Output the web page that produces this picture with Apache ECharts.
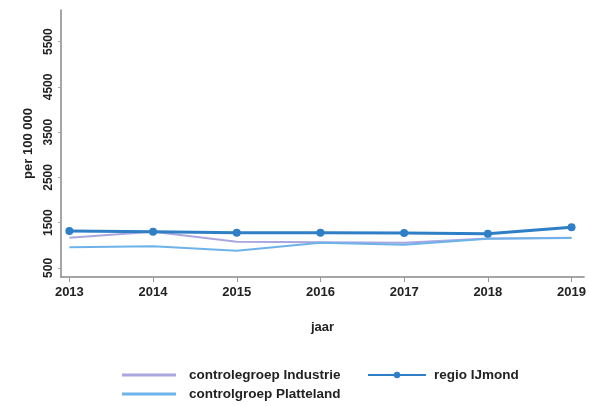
<!DOCTYPE html>
<html>
<head>
<meta charset="utf-8">
<script src="https://cdn.jsdelivr.net/npm/echarts@6/dist/echarts.min.js"></script>
<style>
  html, body { margin: 0; padding: 0; background: #fff; }
  #chart { width: 589px; height: 406px; }
</style>
</head>
<body>
<div id="chart"></div>
<script>
// jaren en waarden per 100 000
const years = [2013, 2014, 2015, 2016, 2017, 2018, 2019]
const yTicks = [500, 1500, 2500, 3500, 4500, 5500]
const industrie = [1170, 1300, 1080, 1070, 1055, 1150, 1165]
const platteland = [955, 980, 880, 1055, 1015, 1145, 1160]
const ijmond = [1315, 1300, 1280, 1280, 1270, 1255, 1400]

const pairs = (vals) => years.map((y, i) => [y, vals[i]])

const chart = echarts.init(document.getElementById('chart'))

const font = 'Liberation Sans, Arial, sans-serif'
const legendText = (pad) => ({ color: '#222', fontSize: 13.5, fontWeight: 'bold', fontFamily: font, padding: [0, 0, 0, pad] })
const lineIcon = 'path://M0,0 L54,0 L54,3 L0,3 Z'

chart.setOption({
  animation: false,
  grid: { left: 61, right: 2, top: 10, bottom: 129 },
  xAxis: {
    type: 'value',
    min: 2012.9,
    max: 2019.15,
    name: 'jaar',
    nameLocation: 'middle',
    nameGap: 44,
    nameTextStyle: { color: '#222', fontSize: 13, fontWeight: 'bold', fontFamily: font },
    axisLine: { lineStyle: { color: '#888', width: 1.5 } },
    axisTick: { show: true, customValues: years, length: 5, lineStyle: { color: '#999' } },
    axisLabel: {
      customValues: years,
      color: '#222',
      fontSize: 13,
      fontWeight: 'bold',
      margin: 9,
      fontFamily: font,
      formatter: (v) => String(v)
    },
    splitLine: { show: false }
  },
  yAxis: {
    type: 'value',
    min: 300,
    max: 6200,
    name: 'per 100 000',
    nameLocation: 'middle',
    nameGap: 20,
    nameRotate: 90,
    nameTextStyle: { color: '#222', fontSize: 13, fontWeight: 'bold', fontFamily: font },
    axisLine: { show: true, lineStyle: { color: '#888', width: 1.5 } },
    axisTick: { show: true, customValues: yTicks, length: 3, lineStyle: { color: '#aaa' } },
    axisLabel: {
      customValues: yTicks,
      rotate: 90,
      color: '#222',
      fontSize: 12,
      fontWeight: 'bold',
      margin: 6,
      fontFamily: font,
      formatter: (v) => String(v)
    },
    splitLine: { show: false }
  },
  legend: [
    {
      data: [
        { name: 'controlegroep Industrie', icon: lineIcon },
        { name: 'controlgroep Platteland', icon: lineIcon }
      ],
      orient: 'vertical',
      left: 122,
      top: 368,
      height: 60,
      padding: 0,
      itemWidth: 54,
      itemHeight: 10,
      itemGap: 5,
      textStyle: legendText(8)
    },
    {
      data: ['regio IJmond'],
      left: 367,
      top: 368,
      padding: 0,
      itemWidth: 58,
      itemHeight: 8,
      textStyle: legendText(3)
    }
  ],
  series: [
    {
      name: 'controlegroep Industrie',
      type: 'line',
      data: pairs(industrie),
      symbol: 'none',
      lineStyle: { color: '#a9a6e0', width: 2 },
      itemStyle: { color: '#a9a6e0' },
      z: 1
    },
    {
      name: 'controlgroep Platteland',
      type: 'line',
      data: pairs(platteland),
      symbol: 'none',
      lineStyle: { color: '#6db3ea', width: 2 },
      itemStyle: { color: '#6db3ea' },
      z: 2
    },
    {
      name: 'regio IJmond',
      type: 'line',
      data: pairs(ijmond),
      symbol: 'circle',
      symbolSize: 8,
      lineStyle: { color: '#2f7fc6', width: 3 },
      itemStyle: { color: '#2f7fc6' },
      z: 3
    }
  ]
})
</script>
</body>
</html>
